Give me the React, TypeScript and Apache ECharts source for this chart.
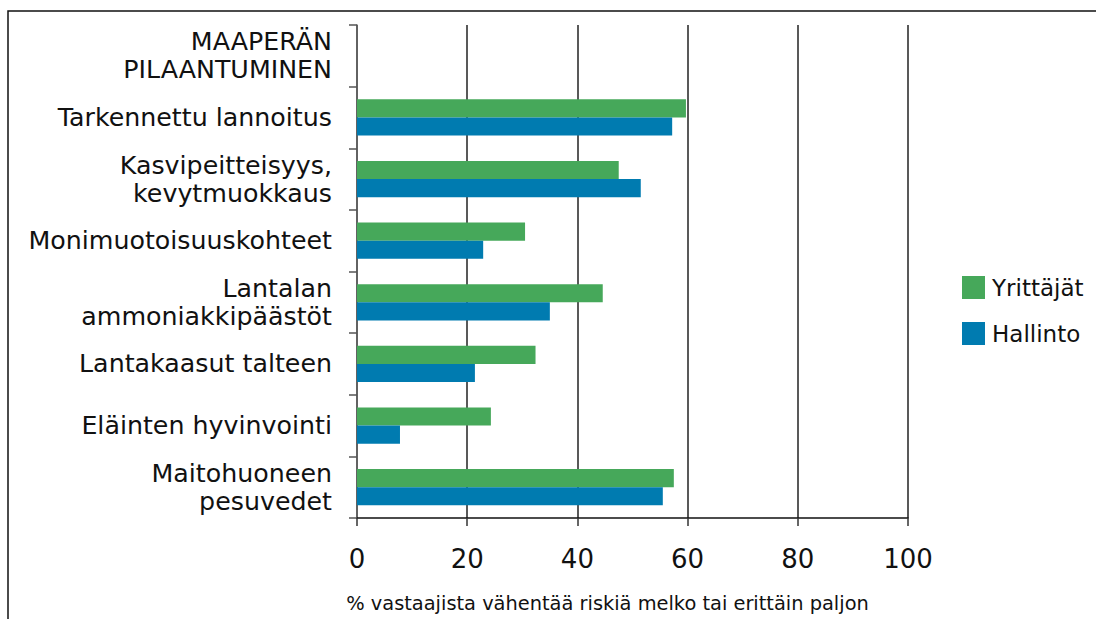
import React, { useEffect, useRef } from "react";
import * as echarts from "echarts";

const categories = [
  "MAAPERÄN\nPILAANTUMINEN",
  "Tarkennettu lannoitus",
  "Kasvipeitteisyys,\nkevytmuokkaus",
  "Monimuotoisuuskohteet",
  "Lantalan\nammoniakkipäästöt",
  "Lantakaasut talteen",
  "Eläinten hyvinvointi",
  "Maitohuoneen\npesuvedet",
];
const yrittajat = [null, 59.7, 47.5, 30.5, 44.6, 32.4, 24.3, 57.5];
const hallinto = [null, 57.2, 51.5, 22.9, 35.0, 21.4, 7.8, 55.5];
const xTicks = [0, 20, 40, 60, 80, 100];
const axisName = "% vastaajista vähentää riskiä melko tai erittäin paljon";

const FONT = "'DejaVu Sans', Verdana, sans-serif";

export default function App() {
  const ref = useRef<HTMLDivElement>(null);
  useEffect(() => {
    if (!ref.current) return;
    const chart = echarts.init(ref.current, null, { renderer: "svg" });
    chart.setOption({
      animation: false,
      backgroundColor: "#ffffff",
      textStyle: { fontFamily: FONT },
      grid: {
        left: 357,
        right: 188,
        top: 25,
        bottom: 101,
        containLabel: false,
        outerBoundsMode: "none",
      },
      legend: {
        orient: "vertical",
        left: 957,
        top: 271,
        itemWidth: 23,
        itemHeight: 23,
        itemGap: 23,
        icon: "rect",
        textStyle: { fontSize: 23, color: "#111", fontFamily: FONT, padding: [0, 0, 0, 2] },
        data: ["Yrittäjät", "Hallinto"],
      },
      xAxis: {
        type: "value",
        min: xTicks[0],
        max: xTicks[xTicks.length - 1],
        interval: 20,
        name: axisName,
        nameLocation: "middle",
        nameGap: 76,
        nameTextStyle: {
          fontSize: 19.4,
          color: "#111",
          fontFamily: FONT,
          padding: [0, 50, 0, 0],
        },
        axisLine: { show: true, lineStyle: { color: "#111", width: 1.5 } },
        axisTick: { show: true, length: 8, lineStyle: { color: "#333", width: 1.5 } },
        axisLabel: { fontSize: 26, color: "#111", margin: 28, fontFamily: FONT },
        splitLine: { show: true, lineStyle: { color: "#222", width: 1.5 } },
      },
      yAxis: {
        type: "category",
        data: categories,
        inverse: true,
        axisLine: { show: true, lineStyle: { color: "#666", width: 1.5 } },
        axisTick: { show: true, length: 8, lineStyle: { color: "#555", width: 1.5 } },
        axisLabel: {
          fontSize: 25.3,
          color: "#111",
          margin: 25,
          lineHeight: 28,
          fontFamily: FONT,
          align: "right",
        },
        splitLine: { show: false },
      },
      series: [
        {
          name: "Yrittäjät",
          type: "bar",
          data: yrittajat,
          barGap: "0%",
          barCategoryGap: "41%",
          itemStyle: { color: "#46a85a" },
        },
        {
          name: "Hallinto",
          type: "bar",
          data: hallinto,
          barGap: "0%",
          barCategoryGap: "41%",
          itemStyle: { color: "#007bb0" },
        },
      ],
      graphic: [
        {
          type: "rect",
          shape: { x: 8, y: 11, width: 1100, height: 620 },
          style: { fill: "none", stroke: "#111", lineWidth: 1.5 },
          silent: true,
        },
      ],
    });
    return () => chart.dispose();
  }, []);
  return (
    <div
      ref={ref}
      style={{ position: "fixed", left: 0, top: 0, width: 1096, height: 619 }}
    />
  );
}
